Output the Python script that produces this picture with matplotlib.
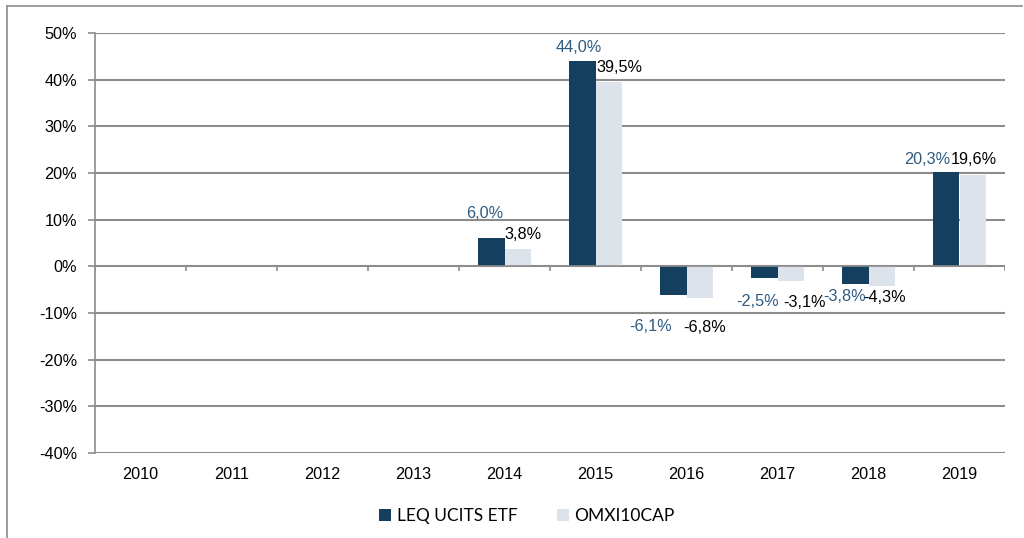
import matplotlib
matplotlib.use("Agg")
import matplotlib.pyplot as plt
from matplotlib.lines import Line2D
import numpy as np

plt.rcParams['font.family'] = ['Liberation Sans', 'DejaVu Sans']

years = ['2010', '2011', '2012', '2013', '2014', '2015', '2016', '2017', '2018', '2019']
leq = [np.nan, np.nan, np.nan, np.nan, 6.0, 44.0, -6.1, -2.5, -3.8, 20.3]
omx = [np.nan, np.nan, np.nan, np.nan, 3.8, 39.5, -6.8, -3.1, -4.3, 19.6]
names = ['LEQ UCITS ETF', 'OMXI10CAP']

# label offsets in pixels (dx, dy) from bar centre / bar end
leq_off = [None] * 4 + [(-7, 25), (-4, 14), (-23, -32), (-7, -24), (-11, -12), (-19, 12)]
omx_off = [None] * 4 + [(5, 14), (11, 14), (5, -29), (14, -22), (3, -11), (1, 15)]

dark = '#143f5f'
light = '#dce3ea'
lblue = '#2e5b80'
grey = '#8c8c8c'
fs = 11.7

fig = plt.figure(figsize=(10.24, 5.38), dpi=100)
ax = fig.add_axes([95 / 1024, 1 - 453 / 538, 910 / 1024, 420 / 538])

x = np.arange(len(years))
w = 0.286
ax.bar(x - w / 2, leq, w, color=dark, label=names[0], zorder=3)
ax.bar(x + w / 2, omx, w, color=light, label=names[1], zorder=3)

def fmt(v):
    return f'{v:.1f}%'.replace('.', ',')

for i in range(len(years)):
    if np.isnan(leq[i]):
        continue
    ax.annotate(fmt(leq[i]), (x[i] - w / 2, leq[i]), xytext=leq_off[i],
                textcoords='offset pixels', ha='center', va='center',
                fontsize=fs, color=lblue, zorder=5)
    ax.annotate(fmt(omx[i]), (x[i] + w / 2, omx[i]), xytext=omx_off[i],
                textcoords='offset pixels', ha='center', va='center',
                fontsize=fs, color='black', zorder=5)

ax.set_xlim(-0.5, len(years) - 0.5)
ax.set_ylim(-40, 50)
ax.set_yticks(np.arange(-40, 51, 10))
ax.set_yticklabels([f'{t}%' for t in range(-40, 51, 10)], fontsize=fs)
ax.yaxis.grid(True, color=grey, linewidth=1.5, zorder=0)
ax.set_xticks(x)
ax.set_xticklabels(years, fontsize=fs)
ax.tick_params(axis='x', length=0, pad=10)
ax.tick_params(axis='y', length=5, width=1.2, color=grey, pad=8)

for s in ['top', 'right', 'bottom']:
    ax.spines[s].set_visible(False)
ax.spines['left'].set_color(grey)
ax.spines['left'].set_linewidth(1.2)

# zero axis with category tick marks
ax.axhline(0, color=grey, linewidth=1.2, zorder=4)
ax.vlines(np.arange(-0.5, len(years)), -0.9, 0, color=grey, linewidth=1.2, zorder=4)

leg = fig.legend(loc='center', bbox_to_anchor=(527 / 1024, 1 - 516 / 538), ncol=2,
                 frameon=False, handlelength=0.7, handleheight=0.7,
                 handletextpad=0.3, columnspacing=2.3,
                 prop={'family': 'Lato', 'size': 12.5})

# outer frame (left and top)
fig.add_artist(Line2D([7 / 1024, 7 / 1024], [0, 1 - 6 / 538], color=grey, linewidth=1.2))
fig.add_artist(Line2D([7 / 1024, 1022 / 1024], [1 - 6 / 538, 1 - 6 / 538], color=grey, linewidth=1.2))

fig.savefig('out.png', dpi=100)
